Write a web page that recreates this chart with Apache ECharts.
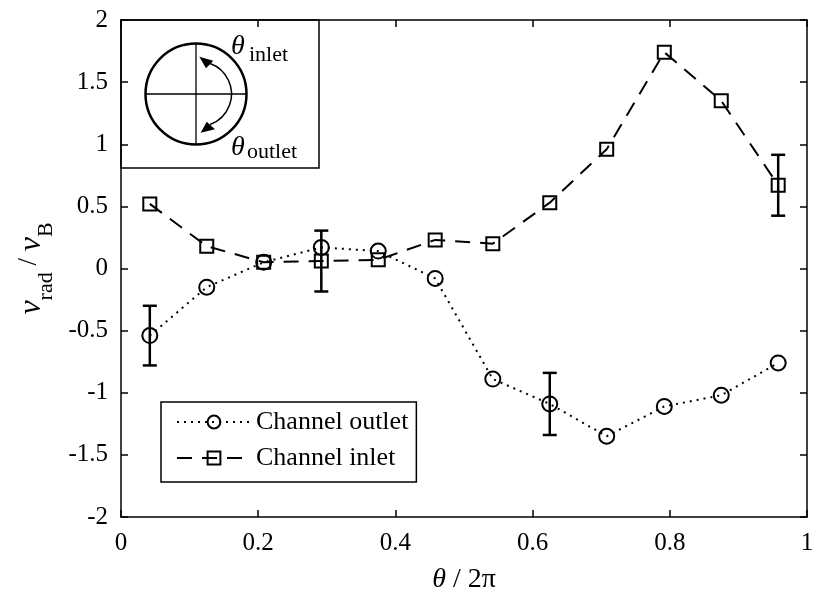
<!DOCTYPE html>
<html>
<head>
<meta charset="utf-8">
<script src="https://cdn.jsdelivr.net/npm/echarts@6/dist/echarts.min.js"></script>
<style>html,body{margin:0;padding:0;background:#fff}#c{width:817px;height:600px}</style>
</head>
<body>
<div id="c"></div>
<script>
// ---- data ----
const theta = [0.042, 0.125, 0.208, 0.292, 0.375, 0.458, 0.542, 0.625, 0.708, 0.792, 0.875, 0.958];
const outlet = [-0.54, -0.15, 0.05, 0.17, 0.14, -0.08, -0.89, -1.09, -1.35, -1.11, -1.02, -0.76];
const inlet = [0.52, 0.18, 0.05, 0.06, 0.07, 0.23, 0.20, 0.53, 0.96, 1.74, 1.35, 0.67];
const outletErr = [0.24, null, null, null, null, null, null, 0.25, null, null, null, null];
const inletErr = [null, null, null, 0.245, null, null, null, null, null, null, null, 0.245];
const xTicks = [0, 0.2, 0.4, 0.6, 0.8, 1];
const yTicks = [-2, -1.5, -1, -0.5, 0, 0.5, 1, 1.5, 2];
const seriesNames = ['Channel outlet', 'Channel inlet'];

const FONT = '"Liberation Serif", "Times New Roman", serif';

function pairs(vals) { return theta.map((t, i) => [t, vals[i]]); }
function errData(vals, errs) {
  const out = [];
  theta.forEach((t, i) => { if (errs[i] != null) out.push([t, vals[i] - errs[i], vals[i] + errs[i]]); });
  return out;
}
function errRender(params, api) {
  const x = api.value(0), lo = api.value(1), hi = api.value(2);
  const a = api.coord([x, lo]), b = api.coord([x, hi]);
  const w = 7;
  const st = { stroke: '#000', lineWidth: 2.5 };
  return { type: 'group', children: [
    { type: 'line', shape: { x1: a[0], y1: a[1], x2: b[0], y2: b[1] }, style: st },
    { type: 'line', shape: { x1: a[0] - w, y1: a[1], x2: a[0] + w, y2: a[1] }, style: st },
    { type: 'line', shape: { x1: b[0] - w, y1: b[1], x2: b[0] + w, y2: b[1] }, style: st }
  ]};
}

const axisLine = { show: true, onZero: false, lineStyle: { color: '#000', width: 1.5 } };
const axisTick = { show: true, inside: true, length: 7, lineStyle: { color: '#000', width: 1.5 } };
const lbl = { color: '#000', fontFamily: FONT, fontSize: 25 };

const chart = echarts.init(document.getElementById('c'), null, { renderer: 'canvas' });
chart.setOption({
  animation: false,
  backgroundColor: '#fff',
  grid: { left: 121, top: 20, width: 686, height: 497, containLabel: false },
  xAxis: [
    { type: 'value', min: xTicks[0], max: xTicks[xTicks.length - 1], interval: xTicks[1] - xTicks[0],
      position: 'bottom', axisLine, axisTick, splitLine: { show: false },
      axisLabel: Object.assign({ margin: 14 }, lbl),
      name: '{t|θ}{n| / 2π}', nameLocation: 'middle', nameGap: 49,
      nameTextStyle: { rich: {
        t: { fontFamily: FONT, fontStyle: 'italic', fontSize: 28, lineHeight: 28, color: '#000' },
        n: { fontFamily: FONT, fontSize: 28, lineHeight: 28, color: '#000' } } } },
    { type: 'value', min: xTicks[0], max: xTicks[xTicks.length - 1], interval: xTicks[1] - xTicks[0],
      position: 'top', axisLine, axisTick, splitLine: { show: false }, axisLabel: { show: false } }
  ],
  yAxis: [
    { type: 'value', min: yTicks[0], max: yTicks[yTicks.length - 1], interval: yTicks[1] - yTicks[0],
      position: 'left', axisLine, axisTick, splitLine: { show: false },
      axisLabel: Object.assign({ margin: 13 }, lbl),
      name: '{v|v}{s|rad}{n| / }{v|v}{s|B}', nameLocation: 'middle', nameGap: 72, nameRotate: 90,
      nameTextStyle: { rich: {
        v: { fontFamily: FONT, fontStyle: 'italic', fontSize: 32, lineHeight: 32, verticalAlign: 'top', color: '#000' },
        n: { fontFamily: FONT, fontSize: 27, lineHeight: 32, verticalAlign: 'top', color: '#000' },
        s: { fontFamily: FONT, fontSize: 22, lineHeight: 22, padding: [20, 0, 0, 0], verticalAlign: 'top', color: '#000' } } } },
    { type: 'value', min: yTicks[0], max: yTicks[yTicks.length - 1], interval: yTicks[1] - yTicks[0],
      position: 'right', axisLine, axisTick, splitLine: { show: false }, axisLabel: { show: false } }
  ],
  legend: {
    data: seriesNames, orient: 'vertical', left: 161, top: 402,
    padding: [7, 8, 11, 15], itemWidth: 74, itemHeight: 16, itemGap: 10,
    borderColor: '#000', borderWidth: 1.5, borderRadius: 0, backgroundColor: '#fff',
    textStyle: { color: '#000', fontFamily: FONT, fontSize: 26, lineHeight: 26 }
  },
  series: [
    { name: seriesNames[0], type: 'line', data: pairs(outlet), symbol: 'circle', symbolSize: 15,
      lineStyle: { color: '#000', width: 2, type: [2, 5] },
      itemStyle: { color: 'rgba(255,255,255,0)', borderColor: '#000', borderWidth: 2 }, z: 3 },
    { name: seriesNames[1], type: 'line', data: pairs(inlet), symbol: 'rect', symbolSize: 13,
      lineStyle: { color: '#000', width: 2, type: [15, 10] },
      itemStyle: { color: 'rgba(255,255,255,0)', borderColor: '#000', borderWidth: 2 }, z: 3 },
    { type: 'custom', renderItem: errRender, data: errData(outlet, outletErr), encode: { x: 0, y: [1, 2] }, z: 4, silent: true },
    { type: 'custom', renderItem: errRender, data: errData(inlet, inletErr), encode: { x: 0, y: [1, 2] }, z: 4, silent: true }
  ],
  graphic: [
    { type: 'rect', shape: { x: 121, y: 20, width: 198, height: 148 }, style: { fill: 'none', stroke: '#000', lineWidth: 1.5 } },
    { type: 'circle', shape: { cx: 196, cy: 94, r: 50.5 }, style: { fill: 'none', stroke: '#000', lineWidth: 2.5 } },
    { type: 'line', shape: { x1: 145.5, y1: 94, x2: 246.5, y2: 94 }, style: { stroke: '#000', lineWidth: 1.3 } },
    { type: 'line', shape: { x1: 196, y1: 43.5, x2: 196, y2: 144.5 }, style: { stroke: '#000', lineWidth: 1.3 } },
    { type: 'arc', shape: { cx: 199, cy: 94, r: 32.5, startAngle: -70 * Math.PI / 180, endAngle: 70 * Math.PI / 180, clockwise: true },
      style: { fill: 'none', stroke: '#000', lineWidth: 1.5 } },
    { type: 'polygon', shape: { points: [[199.3, 56.7], [213.3, 60.7], [206, 68.3]] }, style: { fill: '#000' } },
    { type: 'polygon', shape: { points: [[200.7, 132.7], [206.7, 121.7], [215, 129.3]] }, style: { fill: '#000' } },
    { type: 'text', x: 231, y: 61, style: { text: 'θ', fontFamily: FONT, fontStyle: 'italic', fontSize: 28, fill: '#000', align: 'left', verticalAlign: 'bottom' } },
    { type: 'text', x: 249, y: 66, style: { text: 'inlet', fontFamily: FONT, fontSize: 22, fill: '#000', align: 'left', verticalAlign: 'bottom' } },
    { type: 'text', x: 231, y: 162, style: { text: 'θ', fontFamily: FONT, fontStyle: 'italic', fontSize: 28, fill: '#000', align: 'left', verticalAlign: 'bottom' } },
    { type: 'text', x: 247, y: 163, style: { text: 'outlet', fontFamily: FONT, fontSize: 22, fill: '#000', align: 'left', verticalAlign: 'bottom' } }
  ]
});
</script>
</body>
</html>
